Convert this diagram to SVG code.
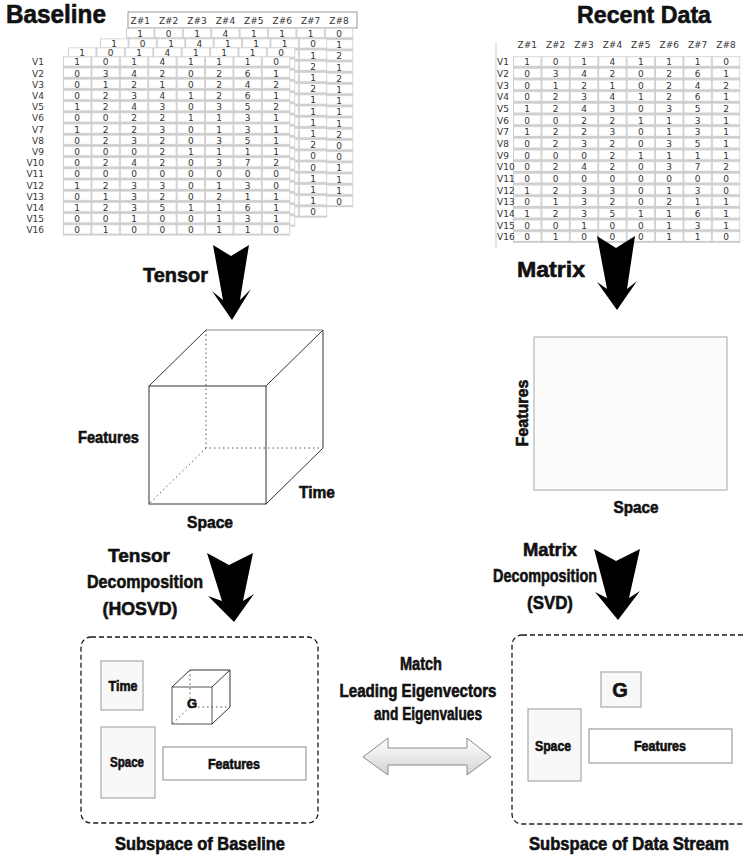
<svg xmlns="http://www.w3.org/2000/svg" width="743" height="861" viewBox="0 0 743 861">
<style>
.t{font-family:"DejaVu Sans",Verdana,sans-serif;font-size:9px;fill:#333}
.tc{text-anchor:middle}
.b{font-family:"Liberation Sans",Arial,sans-serif;font-weight:bold;fill:#111;stroke:#111;stroke-width:0.6}
.m{text-anchor:middle}
.edge{stroke:#333;stroke-width:1;fill:none}
.dot{stroke:#555;stroke-width:1;fill:none;stroke-dasharray:1.5,3}
.box{fill:#f8f8f8;stroke:#9a9a9a;stroke-width:1}
.dash{fill:none;stroke:#1a1a1a;stroke-width:1.3;stroke-dasharray:5,3}
.big{fill:#000}
</style>
<defs>
<pattern id="cellL" patternUnits="userSpaceOnUse" width="28.4" height="11.2">
<rect width="28.4" height="11.2" fill="#cfcfcf"/>
<rect x="1" y="0.8" width="26.6" height="8.4" fill="#fff"/>
</pattern>
<pattern id="cellR" patternUnits="userSpaceOnUse" width="28.4" height="11.67">
<rect width="28.4" height="11.67" fill="#cfcfcf"/>
<rect x="1" y="0.8" width="26.6" height="8.8" fill="#fff"/>
</pattern>
<linearGradient id="dbl" x1="0" y1="0" x2="0" y2="1">
<stop offset="0" stop-color="#ffffff"/>
<stop offset="1" stop-color="#d4d4d4"/>
</linearGradient>
</defs>
<rect width="743" height="861" fill="#fff"/>

<text class="b" x="6" y="23" font-size="25" textLength="100" lengthAdjust="spacingAndGlyphs">Baseline</text>
<text class="b m" x="644" y="23" font-size="24" textLength="134" lengthAdjust="spacingAndGlyphs">Recent Data</text>

<g id="baseline-table">
<g id="layer4" transform="translate(126,28)">
<rect x="2" y="-16" width="229" height="16" fill="#fff" stroke="#999" stroke-width="1"/>
<g class="t tc">
<text x="14.2" y="-4">Z#1</text><text x="42.6" y="-4">Z#2</text><text x="71" y="-4">Z#3</text><text x="99.4" y="-4">Z#4</text>
<text x="127.8" y="-4">Z#5</text><text x="156.2" y="-4">Z#6</text><text x="184.6" y="-4">Z#7</text><text x="213" y="-4">Z#8</text>
</g>
<rect width="227.2" height="179.2" fill="url(#cellL)"/>
<text class="t tc" x="14.2 42.6 71 99.4 127.8 156.2 184.6 213" y="9">10141110</text>
<text class="t tc" x="213 213 213 213 213 213 213 213 213 213 213 213 213 213 213" y="20.2 31.4 42.6 53.8 65 76.2 87.4 98.6 109.8 121 132.2 143.4 154.6 165.8 177">121211112001110</text>
</g>
<g id="layer3" transform="translate(100,38.4)">
<rect width="227.2" height="179.2" fill="url(#cellL)"/>
<text class="t tc" x="14.2 42.6 71 99.4 127.8 156.2 184.6 213" y="9">10141110</text>
<text class="t tc" x="213 213 213 213 213 213 213 213 213 213 213 213 213 213 213" y="20.2 31.4 42.6 53.8 65 76.2 87.4 98.6 109.8 121 132.2 143.4 154.6 165.8 177">121211112001110</text>
</g>
<g id="layer2" transform="translate(68,47.4)">
<rect width="227.2" height="179.2" fill="url(#cellL)"/>
<text class="t tc" x="14.2 42.6 71 99.4 127.8 156.2 184.6 213" y="9">10141110</text>
</g>
<g id="layer1" transform="translate(63,56.4)">
<rect width="227.2" height="179.2" fill="url(#cellL)"/>
<g class="t" text-anchor="end">
<text x="-19" y="9">V1</text><text x="-19" y="20.2">V2</text><text x="-19" y="31.4">V3</text><text x="-19" y="42.6">V4</text>
<text x="-19" y="53.8">V5</text><text x="-19" y="65">V6</text><text x="-19" y="76.2">V7</text><text x="-19" y="87.4">V8</text>
<text x="-19" y="98.6">V9</text><text x="-19" y="109.8">V10</text><text x="-19" y="121">V11</text><text x="-19" y="132.2">V12</text>
<text x="-19" y="143.4">V13</text><text x="-19" y="154.6">V14</text><text x="-19" y="165.8">V15</text><text x="-19" y="177">V16</text>
</g>
<g class="t tc">
<text x="14.2 42.6 71 99.4 127.8 156.2 184.6 213" y="9">10141110</text>
<text x="14.2 42.6 71 99.4 127.8 156.2 184.6 213" y="20.2">03420261</text>
<text x="14.2 42.6 71 99.4 127.8 156.2 184.6 213" y="31.4">01210242</text>
<text x="14.2 42.6 71 99.4 127.8 156.2 184.6 213" y="42.6">02341261</text>
<text x="14.2 42.6 71 99.4 127.8 156.2 184.6 213" y="53.8">12430352</text>
<text x="14.2 42.6 71 99.4 127.8 156.2 184.6 213" y="65">00221131</text>
<text x="14.2 42.6 71 99.4 127.8 156.2 184.6 213" y="76.2">12230131</text>
<text x="14.2 42.6 71 99.4 127.8 156.2 184.6 213" y="87.4">02320351</text>
<text x="14.2 42.6 71 99.4 127.8 156.2 184.6 213" y="98.6">00021111</text>
<text x="14.2 42.6 71 99.4 127.8 156.2 184.6 213" y="109.8">02420372</text>
<text x="14.2 42.6 71 99.4 127.8 156.2 184.6 213" y="121">00000000</text>
<text x="14.2 42.6 71 99.4 127.8 156.2 184.6 213" y="132.2">12330130</text>
<text x="14.2 42.6 71 99.4 127.8 156.2 184.6 213" y="143.4">01320211</text>
<text x="14.2 42.6 71 99.4 127.8 156.2 184.6 213" y="154.6">12351161</text>
<text x="14.2 42.6 71 99.4 127.8 156.2 184.6 213" y="165.8">00100131</text>
<text x="14.2 42.6 71 99.4 127.8 156.2 184.6 213" y="177">01000110</text>
</g>
</g>
</g>

<g id="recent-table" transform="translate(513,56.2)">
<line x1="-17" y1="-14" x2="-17" y2="192" stroke="#d0d0d0" stroke-width="1"/>
<g class="t tc">
<text x="14.2" y="-8.2">Z#1</text><text x="42.6" y="-8.2">Z#2</text><text x="71" y="-8.2">Z#3</text><text x="99.4" y="-8.2">Z#4</text>
<text x="127.8" y="-8.2">Z#5</text><text x="156.2" y="-8.2">Z#6</text><text x="184.6" y="-8.2">Z#7</text><text x="213" y="-8.2">Z#8</text>
</g>
<rect width="227.2" height="186.72" fill="url(#cellR)"/>
<g class="t">
<text x="-16" y="9.1">V1</text><text x="-16" y="20.77">V2</text><text x="-16" y="32.44">V3</text><text x="-16" y="44.11">V4</text>
<text x="-16" y="55.78">V5</text><text x="-16" y="67.45">V6</text><text x="-16" y="79.12">V7</text><text x="-16" y="90.79">V8</text>
<text x="-16" y="102.46">V9</text><text x="-16" y="114.13">V10</text><text x="-16" y="125.8">V11</text><text x="-16" y="137.47">V12</text>
<text x="-16" y="149.14">V13</text><text x="-16" y="160.81">V14</text><text x="-16" y="172.48">V15</text><text x="-16" y="184.15">V16</text>
</g>
<g class="t tc">
<text x="14.2 42.6 71 99.4 127.8 156.2 184.6 213" y="9.1">10141110</text>
<text x="14.2 42.6 71 99.4 127.8 156.2 184.6 213" y="20.77">03420261</text>
<text x="14.2 42.6 71 99.4 127.8 156.2 184.6 213" y="32.44">01210242</text>
<text x="14.2 42.6 71 99.4 127.8 156.2 184.6 213" y="44.11">02341261</text>
<text x="14.2 42.6 71 99.4 127.8 156.2 184.6 213" y="55.78">12430352</text>
<text x="14.2 42.6 71 99.4 127.8 156.2 184.6 213" y="67.45">00221131</text>
<text x="14.2 42.6 71 99.4 127.8 156.2 184.6 213" y="79.12">12230131</text>
<text x="14.2 42.6 71 99.4 127.8 156.2 184.6 213" y="90.79">02320351</text>
<text x="14.2 42.6 71 99.4 127.8 156.2 184.6 213" y="102.46">00021111</text>
<text x="14.2 42.6 71 99.4 127.8 156.2 184.6 213" y="114.13">02420372</text>
<text x="14.2 42.6 71 99.4 127.8 156.2 184.6 213" y="125.8">00000000</text>
<text x="14.2 42.6 71 99.4 127.8 156.2 184.6 213" y="137.47">12330130</text>
<text x="14.2 42.6 71 99.4 127.8 156.2 184.6 213" y="149.14">01320211</text>
<text x="14.2 42.6 71 99.4 127.8 156.2 184.6 213" y="160.81">12351161</text>
<text x="14.2 42.6 71 99.4 127.8 156.2 184.6 213" y="172.48">00100131</text>
<text x="14.2 42.6 71 99.4 127.8 156.2 184.6 213" y="184.15">01000110</text>
</g>
</g>

<g id="connectors">
<path class="big" d="M213,245 L231,256 L249,245 L240,300 L251,289 L232,320 L212,291 L223,300 Z"/>
<path class="big" d="M597,236 L616,248 L635,236 L627,289 L637,281 L617,310 L597,282 L607,289 Z"/>
<path class="big" d="M207,553 L229,565 L253,553 L243,601 L254,594 L234,622 L208,596 L222,601 Z"/>
<path class="big" d="M594,549 L616,561 L640,549 L629,598 L640,591 L618,620 L595,592 L607,598 Z"/>
<path d="M363,757 L388,738 L388,748 L467,748 L467,738 L491,757 L467,775 L467,765 L388,765 L388,775 Z" fill="url(#dbl)" stroke="#8a8a8a" stroke-width="1"/>
</g>

<text class="b" x="143" y="282" font-size="21" textLength="65" lengthAdjust="spacingAndGlyphs">Tensor</text>
<text class="b" x="517" y="277" font-size="22" textLength="68" lengthAdjust="spacingAndGlyphs">Matrix</text>

<g id="tensor-cube">
<rect x="149" y="386" width="117" height="118" fill="none" stroke="#333" stroke-width="1"/>
<path class="edge" d="M149,386 L206,330 M323,330 L266,386 M323,330 L323,448 L266,504"/>
<path d="M206,330 L323,330" stroke="#888" stroke-width="1.2" fill="none"/>
<path class="dot" d="M206,330 L206,448 L323,448 M206,448 L150,503"/>
<text class="b" x="139" y="443" font-size="17" text-anchor="end" textLength="61" lengthAdjust="spacingAndGlyphs">Features</text>
<text class="b" x="299" y="498" font-size="17" textLength="36" lengthAdjust="spacingAndGlyphs">Time</text>
<text class="b m" x="210" y="528" font-size="17" textLength="46" lengthAdjust="spacingAndGlyphs">Space</text>
</g>

<g id="matrix-rect">
<rect x="534" y="337" width="193" height="153" fill="#fcfcfc" stroke="#a8a8a8" stroke-width="1"/>
<text class="b m" transform="translate(528,413) rotate(-90)" x="0" y="0" font-size="17" textLength="67" lengthAdjust="spacingAndGlyphs">Features</text>
<text class="b m" x="636" y="513" font-size="17" textLength="45" lengthAdjust="spacingAndGlyphs">Space</text>
</g>

<g id="tensor-decomp-label" class="b m" font-size="19">
<text x="139" y="562" textLength="62" lengthAdjust="spacingAndGlyphs">Tensor</text>
<text x="145" y="588" textLength="116" lengthAdjust="spacingAndGlyphs">Decomposition</text>
<text x="140" y="615" textLength="75" lengthAdjust="spacingAndGlyphs">(HOSVD)</text>
</g>
<g id="matrix-decomp-label" class="b m" font-size="19">
<text x="550" y="556" textLength="54" lengthAdjust="spacingAndGlyphs">Matrix</text>
<text x="545" y="582" textLength="104" lengthAdjust="spacingAndGlyphs">Decomposition</text>
<text x="550" y="609" textLength="46" lengthAdjust="spacingAndGlyphs">(SVD)</text>
</g>

<g id="baseline-subspace">
<rect class="dash" x="81" y="637" width="237" height="186" rx="10"/>
<rect class="box" x="101" y="661" width="42" height="49"/>
<text class="b m" x="123" y="691" font-size="14" textLength="29" lengthAdjust="spacingAndGlyphs">Time</text>
<g id="core-cube">
<rect x="172" y="687" width="40" height="37" fill="#fff" stroke="#555" stroke-width="1"/>
<path class="edge" d="M172,687 L190,670 L230,670 L212,687 M230,670 L230,707 L212,724"/>
<path class="dot" d="M190,670 L190,707 L230,707 M190,707 L172,724"/>
<text class="b m" x="192" y="708" font-size="13">G</text>
</g>
<rect class="box" x="101" y="727" width="54" height="71"/>
<text class="b m" x="127" y="767" font-size="14" textLength="34" lengthAdjust="spacingAndGlyphs">Space</text>
<rect x="163" y="747" width="143" height="33" fill="#fff" stroke="#8a8a8a" stroke-width="1"/>
<text class="b m" x="234" y="769" font-size="14" textLength="52" lengthAdjust="spacingAndGlyphs">Features</text>
</g>
<text class="b m" x="200" y="850" font-size="18" textLength="170" lengthAdjust="spacingAndGlyphs">Subspace of Baseline</text>

<g id="match-label" class="b m" font-size="18">
<text x="421" y="670" textLength="42" lengthAdjust="spacingAndGlyphs">Match</text>
<text x="418" y="697" textLength="157" lengthAdjust="spacingAndGlyphs">Leading Eigenvectors</text>
<text x="428" y="720" textLength="108" lengthAdjust="spacingAndGlyphs">and Eigenvalues</text>
</g>

<g id="stream-subspace">
<rect class="dash" x="512" y="635" width="250" height="189" rx="10"/>
<rect class="box" x="601" y="672" width="40" height="35"/>
<text class="b m" x="620" y="697" font-size="20">G</text>
<rect class="box" x="528" y="709" width="53" height="72"/>
<text class="b m" x="553" y="751" font-size="14" textLength="36" lengthAdjust="spacingAndGlyphs">Space</text>
<rect x="589" y="729" width="143" height="34" fill="#fff" stroke="#8a8a8a" stroke-width="1"/>
<text class="b m" x="660" y="751" font-size="14" textLength="52" lengthAdjust="spacingAndGlyphs">Features</text>
</g>
<text class="b m" x="629" y="850" font-size="18" textLength="200" lengthAdjust="spacingAndGlyphs">Subspace of Data Stream</text>
</svg>
